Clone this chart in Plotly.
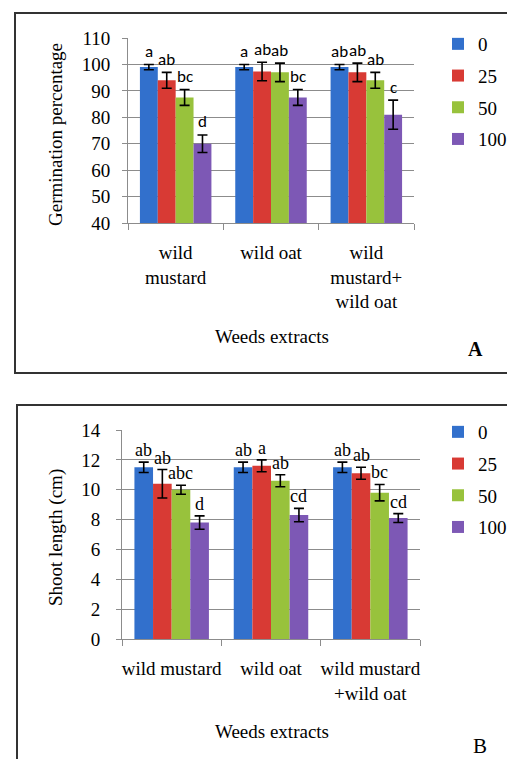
import plotly.graph_objects as go

# The page body has an 8px margin, so the figure is sized to fit the window
# without scrollbars; reference pixel coordinates are converted below.
PAGE_OFF = 8
W, H = 507, 751

# ---------------- data ----------------
weeds = ["wild mustard", "wild oat", "wild mustard + wild oat"]
ticks_a = ["wild<br>mustard", "wild oat", "wild<br>mustard+<br>wild oat"]
ticks_b = ["wild mustard", "wild oat", "wild mustard<br>+wild oat"]
conc = ["0", "25", "50", "100"]

germ_0 = [99, 99, 99]
germ_25 = [94, 97.3, 97]
germ_50 = [87.5, 97, 94]
germ_100 = [70, 87.5, 81]
germ_err_0 = [1, 1, 1]
germ_err_25 = [3, 3.5, 3.5]
germ_err_50 = [3, 3.5, 3]
germ_err_100 = [3.3, 3, 5.5]
germ_letters_0 = ["a", "a", "ab"]
germ_letters_25 = ["ab", "ab", "ab"]
germ_letters_50 = ["bc", "ab", "ab"]
germ_letters_100 = ["d", "bc", "c"]

shoot_0 = [11.5, 11.5, 11.5]
shoot_25 = [10.4, 11.6, 11.1]
shoot_50 = [10.0, 10.6, 9.8]
shoot_100 = [7.8, 8.3, 8.1]
shoot_err_0 = [0.35, 0.35, 0.35]
shoot_err_25 = [0.95, 0.4, 0.4]
shoot_err_50 = [0.3, 0.4, 0.55]
shoot_err_100 = [0.45, 0.45, 0.3]
shoot_letters_0 = ["ab", "ab", "ab"]
shoot_letters_25 = ["ab", "a", "ab"]
shoot_letters_50 = ["abc", "ab", "bc"]
shoot_letters_100 = ["d", "cd", "cd"]

germ_vals = [germ_0, germ_25, germ_50, germ_100]
germ_errs = [germ_err_0, germ_err_25, germ_err_50, germ_err_100]
germ_lets = [germ_letters_0, germ_letters_25, germ_letters_50, germ_letters_100]
shoot_vals = [shoot_0, shoot_25, shoot_50, shoot_100]
shoot_errs = [shoot_err_0, shoot_err_25, shoot_err_50, shoot_err_100]
shoot_lets = [shoot_letters_0, shoot_letters_25, shoot_letters_50, shoot_letters_100]

colors = ["#3270CC", "#D83A34", "#98C23C", "#7D58B5"]
SERIF = "Liberation Serif, Times New Roman, serif"
SANS = "Carlito, Liberation Sans, Arial, sans-serif"
BARGAP = 0.25
FS = 19


def px(x):
    return (x - PAGE_OFF) / W


def py(y):
    return 1 - (y - PAGE_OFF) / H


fig = go.Figure()

for j, c in enumerate(conc):
    fig.add_trace(go.Bar(
        x=weeds, y=germ_vals[j], name=c, marker_color=colors[j],
        marker_line_width=0,
        error_y=dict(type="data", array=germ_errs[j], color="black",
                     thickness=1.6, width=5),
        xaxis="x", yaxis="y", legend="legend", offsetgroup=c,
    ))
for j, c in enumerate(conc):
    fig.add_trace(go.Bar(
        x=weeds, y=shoot_vals[j], name=c, marker_color=colors[j],
        marker_line_width=0,
        error_y=dict(type="data", array=shoot_errs[j], color="black",
                     thickness=1.6, width=5),
        xaxis="x2", yaxis="y2", legend="legend2", offsetgroup=c,
    ))

annotations = []
bw = (1 - BARGAP) / len(conc)
for j in range(len(conc)):
    for i in range(len(weeds)):
        off = (j - (len(conc) - 1) / 2) * bw
        annotations.append(dict(
            x=i + off, y=germ_vals[j][i] + germ_errs[j][i], xref="x", yref="y",
            text=germ_lets[j][i], showarrow=False, yanchor="middle",
            xanchor="center", yshift=13,
            font=dict(family=SANS, size=17, color="black")))
        annotations.append(dict(
            x=i + off, y=shoot_vals[j][i] + shoot_errs[j][i], xref="x2", yref="y2",
            text=shoot_lets[j][i], showarrow=False, yanchor="middle",
            xanchor="center", yshift=12,
            font=dict(family=SERIF, size=18, color="black")))


def paper_text(x, y, text, size=FS, angle=0):
    return dict(x=px(x), y=py(y), xref="paper", yref="paper", text=text,
                textangle=angle, showarrow=False, xanchor="center",
                yanchor="middle", font=dict(family=SERIF, size=size, color="black"))


annotations += [
    paper_text(56, 135, "Germination percentage", angle=-90),
    paper_text(272, 336, "Weeds extracts"),
    paper_text(475, 349, "<b>A</b>", size=20),
    paper_text(56, 538, "Shoot length (cm)", angle=-90),
    paper_text(272, 731, "Weeds extracts"),
    paper_text(480, 746, "B", size=21),
]

shapes = [
    dict(type="rect", xref="paper", yref="paper", x0=px(15), x1=px(513),
         y0=py(373), y1=py(13), line=dict(color="#333333", width=2)),
    dict(type="rect", xref="paper", yref="paper", x0=px(17), x1=px(540),
         y0=py(800), y1=py(405), line=dict(color="#333333", width=2)),
]

grid = "#8c8c8c"
xcommon = dict(type="category", tickson="boundaries", ticks="outside", ticklen=6,
               tickcolor=grid, showline=True, linecolor=grid, linewidth=1,
               showgrid=False, automargin=False, tickangle=0,
               tickfont=dict(family=SERIF, size=FS, color="black"))
ycommon = dict(ticks="outside", ticklen=5, tickcolor=grid, showline=True,
               linecolor=grid, linewidth=1, showgrid=True, gridcolor=grid,
               gridwidth=1, automargin=False, zeroline=False,
               tickfont=dict(family=SERIF, size=FS, color="black"))
legcommon = dict(xanchor="left", yanchor="top",
                 font=dict(family=SERIF, size=FS, color="black"),
                 tracegroupgap=4, bgcolor="rgba(0,0,0,0)", itemwidth=30)

fig.update_layout(
    width=W, height=H,
    margin=dict(l=0, r=0, t=0, b=0),
    paper_bgcolor="white", plot_bgcolor="white",
    barmode="group", bargap=BARGAP, bargroupgap=0,
    xaxis=dict(domain=[px(128), px(414)], anchor="y", tickvals=weeds, ticktext=ticks_a,
               ticklabelstandoff=12, **xcommon),
    yaxis=dict(domain=[py(223), py(38)], anchor="x", range=[40, 110], dtick=10,
               ticklabelstandoff=8, **ycommon),
    xaxis2=dict(domain=[px(122), px(420)], anchor="y2", tickvals=weeds, ticktext=ticks_b,
                ticklabelstandoff=12, **xcommon),
    yaxis2=dict(domain=[py(639), py(430)], anchor="x2", range=[0, 14], dtick=2,
                ticklabelstandoff=12, **ycommon),
    legend=dict(x=px(438), y=py(25), **legcommon),
    legend2=dict(x=px(438), y=py(413), **legcommon),
    annotations=annotations,
    shapes=shapes,
    showlegend=True,
)
for tr in fig.data:
    tr.legendgroup = tr.name + tr.legend

fig.write_html("out.html")
